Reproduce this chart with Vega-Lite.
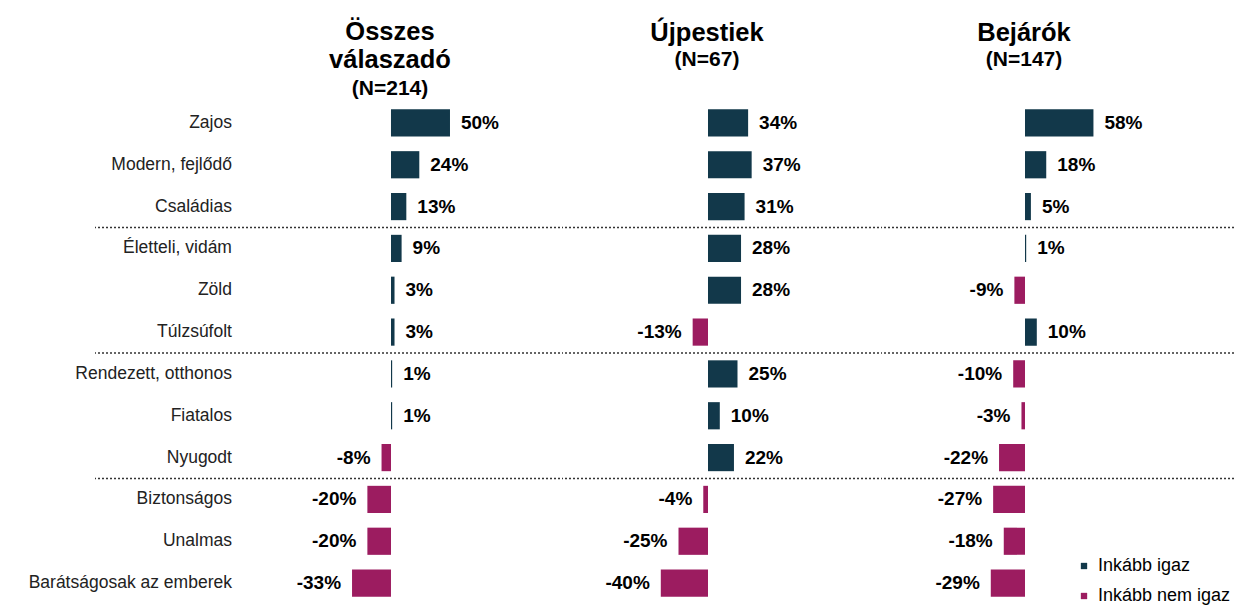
{
  "$schema": "https://vega.github.io/schema/vega-lite/v6.json",
  "background": "white",
  "padding": {"left": 28, "top": 19, "right": 0, "bottom": 0},
  "config": {
    "view": {"stroke": null},
    "font": "Liberation Sans",
    "locale": {"number": {"decimal": ".", "thousands": ",", "grouping": [3], "currency": ["$", ""], "minus": "-", "percent": "%"}},
    "concat": {"spacing": 0}
  },
  "datasets": {
    "d": [
      {"grp": "Összes", "cat": "Zajos", "v": 0.50, "type": "Inkább igaz"},
      {"grp": "Összes", "cat": "Modern, fejlődő", "v": 0.24, "type": "Inkább igaz"},
      {"grp": "Összes", "cat": "Családias", "v": 0.13, "type": "Inkább igaz"},
      {"grp": "Összes", "cat": "Életteli, vidám", "v": 0.09, "type": "Inkább igaz"},
      {"grp": "Összes", "cat": "Zöld", "v": 0.03, "type": "Inkább igaz"},
      {"grp": "Összes", "cat": "Túlzsúfolt", "v": 0.03, "type": "Inkább igaz"},
      {"grp": "Összes", "cat": "Rendezett, otthonos", "v": 0.01, "type": "Inkább igaz"},
      {"grp": "Összes", "cat": "Fiatalos", "v": 0.01, "type": "Inkább igaz"},
      {"grp": "Összes", "cat": "Nyugodt", "v": -0.08, "type": "Inkább nem igaz"},
      {"grp": "Összes", "cat": "Biztonságos", "v": -0.20, "type": "Inkább nem igaz"},
      {"grp": "Összes", "cat": "Unalmas", "v": -0.20, "type": "Inkább nem igaz"},
      {"grp": "Összes", "cat": "Barátságosak az emberek", "v": -0.33, "type": "Inkább nem igaz"},
      {"grp": "Újpestiek", "cat": "Zajos", "v": 0.34, "type": "Inkább igaz"},
      {"grp": "Újpestiek", "cat": "Modern, fejlődő", "v": 0.37, "type": "Inkább igaz"},
      {"grp": "Újpestiek", "cat": "Családias", "v": 0.31, "type": "Inkább igaz"},
      {"grp": "Újpestiek", "cat": "Életteli, vidám", "v": 0.28, "type": "Inkább igaz"},
      {"grp": "Újpestiek", "cat": "Zöld", "v": 0.28, "type": "Inkább igaz"},
      {"grp": "Újpestiek", "cat": "Túlzsúfolt", "v": -0.13, "type": "Inkább nem igaz"},
      {"grp": "Újpestiek", "cat": "Rendezett, otthonos", "v": 0.25, "type": "Inkább igaz"},
      {"grp": "Újpestiek", "cat": "Fiatalos", "v": 0.10, "type": "Inkább igaz"},
      {"grp": "Újpestiek", "cat": "Nyugodt", "v": 0.22, "type": "Inkább igaz"},
      {"grp": "Újpestiek", "cat": "Biztonságos", "v": -0.04, "type": "Inkább nem igaz"},
      {"grp": "Újpestiek", "cat": "Unalmas", "v": -0.25, "type": "Inkább nem igaz"},
      {"grp": "Újpestiek", "cat": "Barátságosak az emberek", "v": -0.40, "type": "Inkább nem igaz"},
      {"grp": "Bejárók", "cat": "Zajos", "v": 0.58, "type": "Inkább igaz"},
      {"grp": "Bejárók", "cat": "Modern, fejlődő", "v": 0.18, "type": "Inkább igaz"},
      {"grp": "Bejárók", "cat": "Családias", "v": 0.05, "type": "Inkább igaz"},
      {"grp": "Bejárók", "cat": "Életteli, vidám", "v": 0.01, "type": "Inkább igaz"},
      {"grp": "Bejárók", "cat": "Zöld", "v": -0.09, "type": "Inkább nem igaz"},
      {"grp": "Bejárók", "cat": "Túlzsúfolt", "v": 0.10, "type": "Inkább igaz"},
      {"grp": "Bejárók", "cat": "Rendezett, otthonos", "v": -0.10, "type": "Inkább nem igaz"},
      {"grp": "Bejárók", "cat": "Fiatalos", "v": -0.03, "type": "Inkább nem igaz"},
      {"grp": "Bejárók", "cat": "Nyugodt", "v": -0.22, "type": "Inkább nem igaz"},
      {"grp": "Bejárók", "cat": "Biztonságos", "v": -0.27, "type": "Inkább nem igaz"},
      {"grp": "Bejárók", "cat": "Unalmas", "v": -0.18, "type": "Inkább nem igaz"},
      {"grp": "Bejárók", "cat": "Barátságosak az emberek", "v": -0.29, "type": "Inkább nem igaz"}
    ]
  },
  "data": {"name": "d"},
  "resolve": {"scale": {"x": "independent", "y": "shared", "color": "shared"}},
  "hconcat": [
    {
      "width": 465,
      "height": 502,
      "title": {"text": ["Összes", "válaszadó"], "subtitle": "(N=214)", "anchor": "middle", "frame": "group", "dx": 62.5, "offset": 3, "fontSize": 25.5, "lineHeight": 28, "fontWeight": "bold", "color": "#000", "subtitleFontSize": 21, "subtitleFontWeight": "bold", "subtitleColor": "#000", "subtitlePadding": 5, "font": "Liberation Sans", "subtitleFont": "Liberation Sans"},
      "transform": [{"filter": "datum.grp === 'Összes'"}],
      "encoding": {
        "y": {"field": "cat", "type": "nominal", "axis": null, "scale": {"domain": ["Zajos", "Modern, fejlődő", "Családias", "Életteli, vidám", "Zöld", "Túlzsúfolt", "Rendezett, otthonos", "Fiatalos", "Nyugodt", "Biztonságos", "Unalmas", "Barátságosak az emberek"], "paddingInner": 0, "paddingOuter": 0}}
      },
      "layer": [
        {
          "transform": [{"filter": "datum.cat === 'Életteli, vidám' || datum.cat === 'Rendezett, otthonos' || datum.cat === 'Biztonságos'"}],
          "mark": {"type": "rule", "strokeDash": [2, 2], "strokeWidth": 1.5, "color": "#333"},
          "encoding": {"y": {"field": "cat", "type": "nominal", "bandPosition": 0}}
        },
        {
          "mark": {"type": "bar", "height": {"band": 0.65}},
          "encoding": {
            "x": {"field": "v", "type": "quantitative", "axis": null, "scale": {"domain": [-2.508, 1.4322], "nice": false, "zero": false}},
            "color": {"field": "type", "type": "nominal", "scale": {"domain": ["Inkább igaz", "Inkább nem igaz"], "range": ["#12384a", "#9c1c60"]}, "legend": {"title": null, "orient": "none", "legendX": 980, "legendY": 455, "symbolType": "square", "symbolSize": 40, "symbolStrokeWidth": 0, "labelFontSize": 18, "labelFont": "Liberation Sans", "labelColor": "#000", "rowPadding": 12, "labelOffset": 5}}
          }
        },
        {
          "transform": [{"filter": "datum.v >= 0"}],
          "mark": {"type": "text", "align": "left", "dx": 11, "fontSize": 19, "fontWeight": "bold", "color": "#000"},
          "encoding": {"x": {"field": "v", "type": "quantitative"}, "text": {"field": "v", "format": ".0%"}}
        },
        {
          "transform": [{"filter": "datum.v < 0"}],
          "mark": {"type": "text", "align": "right", "dx": -11, "fontSize": 19, "fontWeight": "bold", "color": "#000"},
          "encoding": {"x": {"field": "v", "type": "quantitative"}, "text": {"field": "v", "format": ".0%"}}
        },
        {
          "mark": {"type": "text", "align": "right", "fontSize": 17.5, "color": "#222"},
          "encoding": {"x": {"datum": -1.3475}, "text": {"field": "cat"}}
        }
      ]
    },
    {
      "width": 317,
      "height": 502,
      "title": {"text": "Újpestiek", "subtitle": "(N=67)", "anchor": "middle", "frame": "group", "dx": -13.5, "offset": 32, "fontSize": 25.5, "lineHeight": 28, "fontWeight": "bold", "color": "#000", "subtitleFontSize": 21, "subtitleFontWeight": "bold", "subtitleColor": "#000", "subtitlePadding": 3, "font": "Liberation Sans", "subtitleFont": "Liberation Sans"},
      "transform": [{"filter": "datum.grp === 'Újpestiek'"}],
      "encoding": {
        "y": {"field": "cat", "type": "nominal", "axis": null}
      },
      "layer": [
        {
          "transform": [{"filter": "datum.cat === 'Életteli, vidám' || datum.cat === 'Rendezett, otthonos' || datum.cat === 'Biztonságos'"}],
          "mark": {"type": "rule", "strokeDash": [2, 2], "strokeWidth": 1.5, "color": "#333"},
          "encoding": {"y": {"field": "cat", "type": "nominal", "bandPosition": 0}}
        },
        {
          "mark": {"type": "bar", "height": {"band": 0.65}},
          "encoding": {
            "x": {"field": "v", "type": "quantitative", "axis": null, "scale": {"domain": [-1.2373, 1.4492], "nice": false, "zero": false}},
            "color": {"field": "type", "type": "nominal"}
          }
        },
        {
          "transform": [{"filter": "datum.v >= 0"}],
          "mark": {"type": "text", "align": "left", "dx": 11, "fontSize": 19, "fontWeight": "bold", "color": "#000"},
          "encoding": {"x": {"field": "v", "type": "quantitative"}, "text": {"field": "v", "format": ".0%"}}
        },
        {
          "transform": [{"filter": "datum.v < 0"}],
          "mark": {"type": "text", "align": "right", "dx": -11, "fontSize": 19, "fontWeight": "bold", "color": "#000"},
          "encoding": {"x": {"field": "v", "type": "quantitative"}, "text": {"field": "v", "format": ".0%"}}
        }
      ]
    },
    {
      "width": 353,
      "height": 502,
      "title": {"text": "Bejárók", "subtitle": "(N=147)", "anchor": "middle", "frame": "group", "dx": -33.5, "offset": 32, "fontSize": 25.5, "lineHeight": 28, "fontWeight": "bold", "color": "#000", "subtitleFontSize": 21, "subtitleFontWeight": "bold", "subtitleColor": "#000", "subtitlePadding": 3, "font": "Liberation Sans", "subtitleFont": "Liberation Sans"},
      "transform": [{"filter": "datum.grp === 'Bejárók'"}],
      "encoding": {
        "y": {"field": "cat", "type": "nominal", "axis": null}
      },
      "layer": [
        {
          "transform": [{"filter": "datum.cat === 'Életteli, vidám' || datum.cat === 'Rendezett, otthonos' || datum.cat === 'Biztonságos'"}],
          "mark": {"type": "rule", "strokeDash": [2, 2], "strokeWidth": 1.5, "color": "#333"},
          "encoding": {"y": {"field": "cat", "type": "nominal", "bandPosition": 0}}
        },
        {
          "mark": {"type": "bar", "height": {"band": 0.65}},
          "encoding": {
            "x": {"field": "v", "type": "quantitative", "axis": null, "scale": {"domain": [-1.2204, 1.7712], "nice": false, "zero": false}},
            "color": {"field": "type", "type": "nominal"}
          }
        },
        {
          "transform": [{"filter": "datum.v >= 0"}],
          "mark": {"type": "text", "align": "left", "dx": 11, "fontSize": 19, "fontWeight": "bold", "color": "#000"},
          "encoding": {"x": {"field": "v", "type": "quantitative"}, "text": {"field": "v", "format": ".0%"}}
        },
        {
          "transform": [{"filter": "datum.v < 0"}],
          "mark": {"type": "text", "align": "right", "dx": -11, "fontSize": 19, "fontWeight": "bold", "color": "#000"},
          "encoding": {"x": {"field": "v", "type": "quantitative"}, "text": {"field": "v", "format": ".0%"}}
        }
      ]
    }
  ]
}
